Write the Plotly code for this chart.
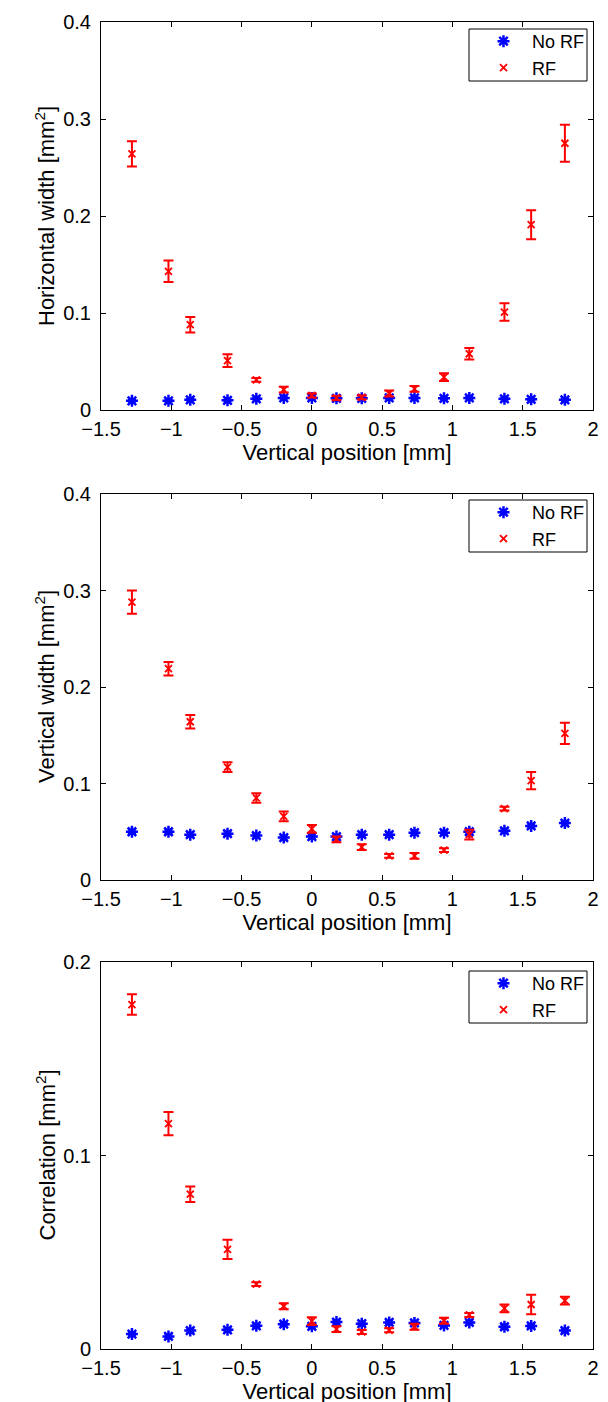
import plotly.graph_objects as go
from plotly.subplots import make_subplots

# ---------------- data ----------------
positions = [-1.28, -1.02, -0.865, -0.60, -0.395, -0.20, 0.0, 0.175, 0.355,
             0.55, 0.73, 0.94, 1.12, 1.37, 1.56, 1.80]

# Horizontal width [mm^2]
hw_norf = [0.0095, 0.0095, 0.0105, 0.010, 0.0115, 0.0125, 0.0125, 0.012, 0.012,
           0.0125, 0.0125, 0.012, 0.0125, 0.0115, 0.011, 0.0105]
hw_norf_err = [0.0012] * 16
hw_rf = [0.264, 0.143, 0.088, 0.051, 0.031, 0.021, 0.015, 0.0124, 0.013,
         0.017, 0.0217, 0.034, 0.058, 0.101, 0.191, 0.275]
hw_rf_err = [0.013, 0.011, 0.008, 0.0066, 0.002, 0.003, 0.002, 0.002, 0.002,
             0.003, 0.003, 0.004, 0.006, 0.009, 0.015, 0.019]

# Vertical width [mm^2]
vw_norf = [0.050, 0.050, 0.047, 0.048, 0.046, 0.044, 0.045, 0.045, 0.047,
           0.047, 0.049, 0.049, 0.050, 0.051, 0.056, 0.059]
vw_norf_err = [0.002] * 16
vw_rf = [0.288, 0.219, 0.164, 0.117, 0.085, 0.066, 0.053, 0.042, 0.034,
         0.025, 0.025, 0.031, 0.047, 0.074, 0.103, 0.152]
vw_rf_err = [0.012, 0.007, 0.007, 0.005, 0.005, 0.005, 0.004, 0.003, 0.003,
             0.002, 0.003, 0.002, 0.005, 0.002, 0.009, 0.011]

# Correlation [mm^2]
co_norf = [0.0077, 0.0065, 0.0095, 0.0099, 0.012, 0.0128, 0.0117, 0.0139, 0.0131,
           0.0137, 0.0135, 0.0122, 0.0137, 0.0115, 0.0119, 0.0095]
co_norf_err = [0.0009] * 16
co_rf = [0.178, 0.1165, 0.080, 0.0515, 0.0335, 0.0221, 0.0144, 0.0103, 0.0088,
         0.0097, 0.0115, 0.0146, 0.0176, 0.021, 0.023, 0.025]
co_rf_err = [0.0053, 0.006, 0.004, 0.005, 0.001, 0.0015, 0.002, 0.0015, 0.001,
             0.001, 0.0015, 0.0015, 0.001, 0.002, 0.005, 0.002]

x_tickvals = [-1.5, -1, -0.5, 0, 0.5, 1, 1.5, 2]
x_ticktext = ["\u22121.5", "\u22121", "\u22120.5", "0", "0.5", "1", "1.5", "2"]
y_ticks_wide = [0, 0.1, 0.2, 0.3, 0.4]
y_ticks_corr = [0, 0.1, 0.2]

y_titles = ["Horizontal width [mm<sup>2</sup>]",
            "Vertical width [mm<sup>2</sup>]",
            "Correlation [mm<sup>2</sup>]"]
x_title = "Vertical position [mm]"
series_names = ["No RF", "RF"]

# ---------------- figure ----------------
FONT = "Liberation Sans, Arial, Helvetica, sans-serif"
BLUE = "#0000ff"
RED = "#ff0000"
W, H = 608, 1402
ML, MR, MT, MB = 93, 23, 14, 61
PW = W - ML - MR
PH = H - MT - MB


def px_x(p):
    return (p - ML) / PW


def px_y(p):
    return 1 - (p - MT) / PH


fig = make_subplots(rows=3, cols=1)

panels = [
    (hw_norf, hw_norf_err, hw_rf, hw_rf_err, [0, 0.4], y_ticks_wide),
    (vw_norf, vw_norf_err, vw_rf, vw_rf_err, [0, 0.4], y_ticks_wide),
    (co_norf, co_norf_err, co_rf, co_rf_err, [0, 0.2], y_ticks_corr),
]
legend_ids = ["legend", "legend2", "legend3"]

# panel pixel extents (top, bottom) -> paper domains
panel_px = [(14, 402), (486, 872), (954, 1341)]
domains = [[px_y(b), px_y(t)] for t, b in panel_px]

for i, (nr, nre, rf, rfe, yr, yt) in enumerate(panels):
    row = i + 1
    fig.add_trace(go.Scatter(
        x=positions, y=nr, mode="markers", name=series_names[0],
        legend=legend_ids[i],
        marker=dict(symbol="asterisk-open", size=10, color=BLUE,
                    line=dict(color=BLUE, width=2.5)),
        error_y=dict(type="data", array=nre, color=BLUE, thickness=1.5, width=4),
    ), row=row, col=1)
    fig.add_trace(go.Scatter(
        x=positions, y=rf, mode="markers", name=series_names[1],
        legend=legend_ids[i],
        marker=dict(symbol="x-thin-open", size=7, color=RED,
                    line=dict(color=RED, width=1.8)),
        error_y=dict(type="data", array=rfe, color=RED, thickness=2, width=5),
    ), row=row, col=1)

    fig.update_xaxes(
        range=[-1.5, 2], tickvals=x_tickvals, ticktext=x_ticktext,
        ticks="inside", ticklen=5, tickcolor="black", mirror="ticks",
        showline=True, linecolor="black", linewidth=1, showgrid=False,
        zeroline=False, tickfont=dict(size=20, color="black", family=FONT),
        ticklabelstandoff=1, automargin=False,
        title=dict(text=x_title, font=dict(size=22, color="black", family=FONT),
                   standoff=0),
        row=row, col=1)
    fig.update_yaxes(
        range=yr, tickvals=yt, ticks="inside", ticklen=5, tickcolor="black",
        mirror="ticks", showline=True, linecolor="black", linewidth=1,
        showgrid=False, zeroline=False, domain=domains[i],
        tickfont=dict(size=20, color="black", family=FONT),
        ticklabelstandoff=5, automargin=False,
        row=row, col=1)

    # y-axis title as a rotated annotation centred on the panel
    t, b = panel_px[i]
    fig.add_annotation(
        text=y_titles[i], textangle=-90, showarrow=False,
        xref="paper", yref="paper",
        x=px_x(37), y=px_y((t + b) / 2),
        xanchor="center", yanchor="middle",
        font=dict(size=22, color="black", family=FONT))

# legend boxes (drawn as shapes) and borderless legends inside them
box_px = [(461, 579, 21, 73), (461, 579, 492, 544), (461, 579, 963, 1015)]
for x0, x1, y0, y1 in box_px:
    fig.add_shape(type="rect", xref="paper", yref="paper",
                  x0=px_x(x0), x1=px_x(x1), y0=px_y(y1), y1=px_y(y0),
                  line=dict(color="black", width=1), fillcolor="white",
                  layer="above")

leg_common = dict(xref="paper", yref="paper", x=px_x(582), xanchor="right",
                  yanchor="top", bgcolor="rgba(0,0,0,0)", borderwidth=0,
                  font=dict(size=18, color="black", family=FONT),
                  tracegroupgap=0, itemwidth=47)
fig.update_layout(
    legend=dict(y=px_y(box_px[0][2] - 6), **leg_common),
    legend2=dict(y=px_y(box_px[1][2] - 6), **leg_common),
    legend3=dict(y=px_y(box_px[2][2] - 6), **leg_common),
)

fig.update_layout(
    width=W, height=H,
    margin=dict(l=ML, r=MR, t=MT, b=MB, autoexpand=False),
    paper_bgcolor="white", plot_bgcolor="white",
    font=dict(family=FONT, color="black", size=20),
    showlegend=True,
)

fig.write_html("out.html")
